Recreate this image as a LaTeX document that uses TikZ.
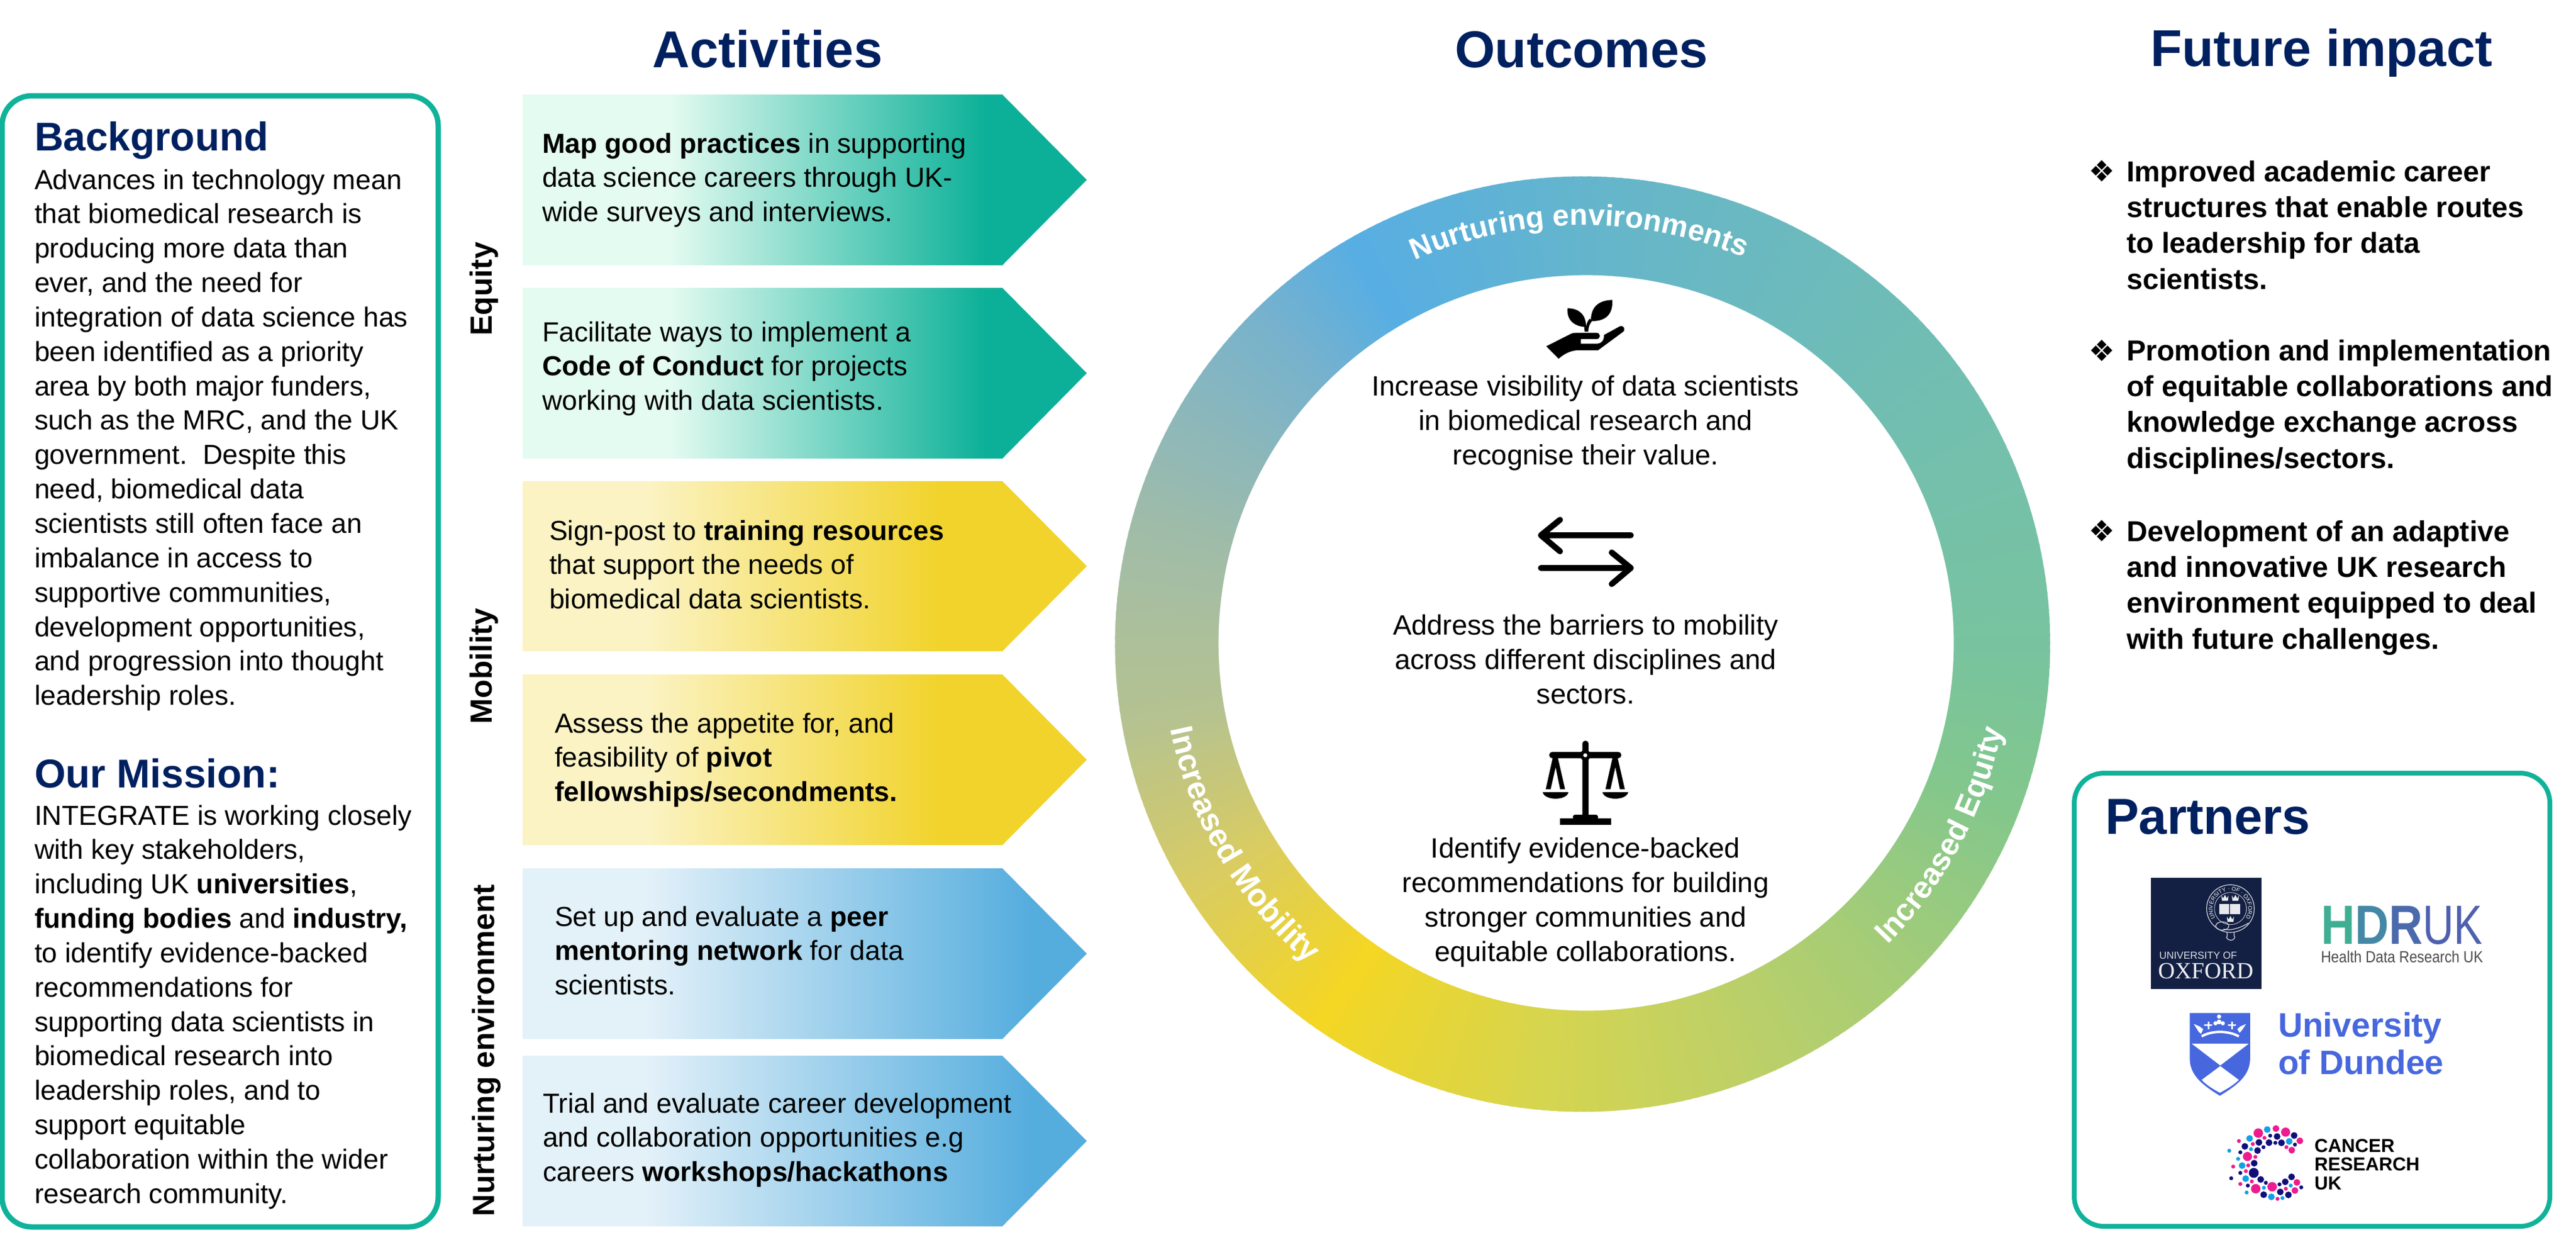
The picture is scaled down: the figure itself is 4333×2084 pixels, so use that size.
\documentclass[tikz,border=0pt]{standalone}
\usepackage{fontspec}
\setmainfont{Liberation Sans}
\newfontfamily\bulfont{DejaVu Sans}
\newfontfamily\oxserif{Liberation Serif}
\usetikzlibrary{decorations.text}
\definecolor{navy}{HTML}{002060}
\definecolor{boxteal}{HTML}{10B29A}
\definecolor{oxblue}{HTML}{132043}
\definecolor{dundee}{HTML}{4767DE}
\definecolor{cpink}{HTML}{EE1B8E}
\definecolor{ccyan}{HTML}{12A0E6}
\definecolor{cnavy}{HTML}{100F7A}
\definecolor{ra}{HTML}{57AEE3}
\definecolor{rb}{HTML}{78B2CC}
\definecolor{rc}{HTML}{A0BCA8}
\definecolor{rd}{HTML}{B5C290}
\definecolor{re}{HTML}{D9CC62}
\definecolor{rf}{HTML}{F4D624}
\definecolor{rg}{HTML}{D5D54F}
\definecolor{rh}{HTML}{BFD066}
\definecolor{ri}{HTML}{A3CC78}
\definecolor{rj}{HTML}{82C78D}
\definecolor{rk}{HTML}{78C39F}
\definecolor{rl}{HTML}{73BFAE}
\definecolor{rm}{HTML}{6CBABD}
\definecolor{rn}{HTML}{64B5CC}
\definecolor{gl}{HTML}{E4FBF1}
\definecolor{gd}{HTML}{0CB098}
\definecolor{yl}{HTML}{FBF3C4}
\definecolor{yd}{HTML}{F1D32B}
\definecolor{bl}{HTML}{E3F1F9}
\definecolor{bd}{HTML}{55ADDE}
\pgfdeclarehorizontalshading{greenarrow}{100bp}{color(0bp)=(gl);color(25bp)=(gl);color(38bp)=(gl);color(66bp)=(gd);color(100bp)=(gd)}
\pgfdeclarehorizontalshading{yellowarrow}{100bp}{color(0bp)=(yl);color(25bp)=(yl);color(36bp)=(yl);color(62bp)=(yd);color(100bp)=(yd)}
\pgfdeclarehorizontalshading{bluearrow}{100bp}{color(0bp)=(bl);color(25bp)=(bl);color(36bp)=(bl);color(70bp)=(bd);color(100bp)=(bd)}
\tikzset{
  every node/.style={inner sep=0pt,outer sep=0pt},
  bodytext/.style={anchor=north west,align=left,font=\fontsize{13.17}{16.45}\selectfont,text=black},
  centertext/.style={anchor=north,align=center,font=\fontsize{13.37}{16.5}\selectfont,text=black},
  impacttext/.style={anchor=north west,align=left,font=\fontsize{13.8}{17.16}\selectfont\bfseries,text=black},
  bulletmark/.style={anchor=base west,font=\fontsize{14}{16}\bulfont,text=black},
  header/.style={anchor=base,font=\fontsize{24.75}{30}\selectfont\bfseries,text=navy},
  panelhead/.style={anchor=base west,font=\fontsize{19.2}{23}\selectfont\bfseries,text=navy},
  sidelabel/.style={anchor=base,rotate=90,font=\fontsize{14.65}{18}\selectfont\bfseries,text=black},
  panel/.style={draw=boxteal,line width=0.09cm,rounded corners=0.5cm,fill=white},
  ringlabel/.style={decorate,decoration={text along path,text align=center,text={#1}}},
  iconline/.style={draw=black,line width=0.1cm,line cap=round,line join=round},
}
\newcommand{\arrowshape}[3]{\shade[shading=#3] (879,-#1) -- (1686,-#1) -- (1828,-#2*.5-#1*.5) -- (1686,-#2) -- (879,-#2) -- cycle;}
\begin{document}
\begin{tikzpicture}[x=0.01cm,y=0.01cm]
\useasboundingbox (0,0) rectangle (4333,-2084);
\fill[white] (0,0) rectangle (4333,-2084);

% headers
\node[header] (hact) at (1291,-113) {Activities};
\node[header] (hout) at (2660,-113) {Outcomes};
\node[header] (hfut) at (3905,-111) {Future impact};

% left panel
\draw[panel] (3.5,-161) rectangle (737,-2063);
\node[panelhead] (bghead) at (58,-253) {Background};
\node[bodytext] (bgtext) at (58,{-318+40.5}) {\strut Advances in technology mean\\
that biomedical research is\\
producing more data than\\
ever, and the need for\\
integration of data science has\\
been identified as a priority\\
area by both major funders,\\
such as the MRC, and the UK\\
government.\ \ Despite this\\
need, biomedical data\\
scientists still often face an\\
imbalance in access to\\
supportive communities,\\
development opportunities,\\
and progression into thought\\
leadership roles.};
\node[panelhead] (mishead) at (58,-1324) {Our Mission:};
\node[bodytext] (mistext) at (58,{-1387+40.5}) {\strut INTEGRATE is working closely\\
with key stakeholders,\\
including UK \textbf{universities},\\
\textbf{funding bodies} and \textbf{industry,}\\
to identify evidence-backed\\
recommendations for\\
supporting data scientists in\\
biomedical research into\\
leadership roles, and to\\
support equitable\\
collaboration within the wider\\
research community.};

% side labels
\node[sidelabel] (lequity) at (827,-486) {Equity};
\node[sidelabel] (lmob) at (827,-1120) {Mobility};
\node[sidelabel] (lnur) at (831,-1766) {Nurturing environment};

% arrows
\arrowshape{159}{446}{greenarrow}
\arrowshape{484}{771}{greenarrow}
\arrowshape{809}{1095}{yellowarrow}
\arrowshape{1134}{1421}{yellowarrow}
\arrowshape{1460}{1747}{bluearrow}
\arrowshape{1775}{2062}{bluearrow}
\node[bodytext] (a1) at (912,{-257+40.5}) {\strut\textbf{Map good practices} in supporting\\data science careers through UK-\\wide surveys and interviews.};
\node[bodytext] (a2) at (912,{-574+40.5}) {\strut Facilitate ways to implement a\\\textbf{Code of Conduct} for projects\\working with data scientists.};
\node[bodytext] (a3) at (924,{-908+40.5}) {\strut Sign-post to \textbf{training resources}\\that support the needs of\\biomedical data scientists.};
\node[bodytext] (a4) at (933,{-1232+40.5}) {\strut Assess the appetite for, and\\feasibility of \textbf{pivot}\\\textbf{fellowships/secondments.}};
\node[bodytext] (a5) at (933,{-1557+40.5}) {\strut Set up and evaluate a \textbf{peer}\\\textbf{mentoring network} for data\\scientists.};
\node[bodytext] (a6) at (913,{-1871+40.5}) {\strut Trial and evaluate career development\\and collaboration opportunities e.g\\careers \textbf{workshops/hackathons}};

% ring
\begin{scope}[shift={(2662,-1083)}]
\foreach \a/\b/\ca/\cb in {120/135/ra/rb,135/165/rb/rc,165/190/rc/rd,190/212/rd/re,212/235/re/rf,235/265/rf/rg,265/290/rg/rh,290/315/rh/ri,315/340/ri/rj,340/360/rj/rk,360/390/rk/rl,390/420/rl/rm,420/450/rm/rn,450/480/rn/ra}{
  \pgfmathtruncatemacro\n{\b-\a-1}
  \foreach \i in {0,...,\n}{
    \pgfmathsetmacro\p{100*(\i+.5)/(\b-\a)}
    \colorlet{segc}{\cb!\p!\ca}
    \fill[segc] (0,0) -- (\a+\i:7.86cm) arc[start angle=\a+\i,end angle=\a+\i+1.4,radius=7.86cm] -- cycle;
  }
}
\end{scope}
\fill[white] (2668,-1081) circle[radius=6.18cm];
% ring labels
\path[ringlabel={|\fontsize{14.2}{17}\selectfont\bfseries\color{white}|Nurturing environments}] (2662,-1083) ++(116:7.04cm) arc[start angle=116,end angle=65,radius=7.04cm];
\path[ringlabel={|\fontsize{14.8}{18}\selectfont\bfseries\color{white}|Increased Equity}] (2662,-1083) ++(-47:7.2cm) arc[start angle=-47,end angle=-9,radius=7.2cm];
\path[ringlabel={|\fontsize{15.2}{18}\selectfont\bfseries\color{white}|Increased Mobility}] (2662,-1083) ++(190:7.08cm) arc[start angle=190,end angle=231,radius=7.08cm];

% centre texts
\node[centertext] (o1) at (2667,{-665+40.6}) {\strut Increase visibility of data scientists\\in biomedical research and\\recognise their value.};
\node[centertext] (o2) at (2667,{-1067+40.6}) {\strut Address the barriers to mobility\\across different disciplines and\\sectors.};
\node[centertext] (o3) at (2667,{-1442+40.6}) {\strut Identify evidence-backed\\recommendations for building\\stronger communities and\\equitable collaborations.};

% plant icon
\begin{scope}[shift={(2570,-490)},x=0.003333cm,y=0.003333cm]
\fill[black] (200,-85) .. controls (255,-85) and (295,-115) .. (294,-180) .. controls (240,-178) and (195,-150) .. (200,-85) -- cycle;
\fill[black] (427,-43) .. controls (360,-45) and (318,-75) .. (318,-150) .. controls (395,-152) and (430,-115) .. (427,-43) -- cycle;
\fill[black] (284,-172) -- (287,-203) -- (305,-203) .. controls (305,-180) and (312,-165) .. (325,-148) -- (312,-138) .. controls (303,-148) and (298,-158) .. (296,-172) -- cycle;
\fill[black] (93,-277) -- (212,-217) .. controls (225,-210) and (235,-209) .. (245,-209) -- (345,-209) .. controls (370,-209) and (370,-241) .. (345,-241) -- (268,-241) -- (268,-264) -- (350,-264) .. controls (370,-264) and (385,-250) .. (385,-220) -- (465,-176) .. controls (480,-168) and (498,-190) .. (480,-205) -- (355,-297) -- (260,-297) .. controls (215,-297) and (185,-315) .. (155,-340) -- cycle;
\end{scope}

% exchange icon
\draw[iconline] (2743,-900) -- (2592,-900) (2624,-874) -- (2592,-900) -- (2624,-927);
\draw[iconline] (2592,-955) -- (2743,-955) (2711,-929) -- (2743,-955) -- (2711,-982);

% scales icon
\begin{scope}[shift={(2570,-1230)},x=0.003333cm,y=0.003333cm]
\fill[black] (275,-430) -- (275,-62) arc[start angle=180,end angle=0,radius=0.0533cm] -- (307,-430) -- cycle;
\fill[black,rounded corners=0.05cm] (108,-103) rectangle (472,-135);
\fill[black] (290,-120) circle[radius=0.09cm];
\fill[white] (290,-120) circle[radius=0.034cm];
\fill[black] (125,-135) -- (90,-292) -- (115,-292) -- (140,-180) -- (163,-292) -- (188,-292) -- (152,-135) -- cycle;
\fill[black] (427,-135) -- (392,-292) -- (417,-292) -- (442,-180) -- (465,-292) -- (490,-292) -- (454,-135) -- cycle;
\fill[black] (75,-307) -- (205,-307) .. controls (195,-350) and (85,-350) .. (75,-307) -- cycle;
\fill[black] (377,-307) -- (507,-307) .. controls (497,-350) and (387,-350) .. (377,-307) -- cycle;
\fill[black] (162,-440) rectangle (420,-473);
\fill[black,rounded corners=0.04cm] (227,-445) -- (227,-420) -- (355,-420) -- (355,-445) -- cycle;
\end{scope}

% future impact
\node[bulletmark] (b1) at (3513,-305) {❖};
\node[bulletmark] (b2) at (3513,-607) {❖};
\node[bulletmark] (b3) at (3513,-910) {❖};
\node[impacttext] (i1) at (3577,{-305+42.2}) {\strut Improved academic career\\structures that enable routes\\to leadership for data\\scientists.};
\node[impacttext] (i2) at (3577,{-606+42.2}) {\strut Promotion and implementation\\of equitable collaborations and\\knowledge exchange across\\disciplines/sectors.};
\node[impacttext] (i3) at (3577,{-910+42.2}) {\strut Development of an adaptive\\and innovative UK research\\environment equipped to deal\\with future challenges.};

% partners
\draw[panel,line width=0.08cm] (3489,-1300) rectangle (4289,-2062);
\node[panelhead,font=\fontsize{24.2}{29}\selectfont\bfseries] (phead) at (3541,-1402) {Partners};

% Oxford
\fill[oxblue] (3618,-1476) rectangle (3804,-1663);
\draw[white!85!oxblue,line width=0.012cm] (3751.7,-1527.7) circle[radius=0.40cm];
\draw[white!85!oxblue,line width=0.008cm] (3751.7,-1527.7) circle[radius=0.27cm];
\path[ringlabel={|\fontsize{2.7}{3}\selectfont\color{white}|UNIVERSITY · OF · OXFORD}] (3751.7,-1527.7) ++(222:0.30cm) arc[start angle=222,end angle=-42,radius=0.30cm];
\fill[white!90!oxblue] (3733,-1520) rectangle (3749.5,-1537) (3751,-1520) rectangle (3768,-1537);
\foreach \cx/\cy in {3742.5/-1510.5,3760/-1510.5,3751.7/-1546}{
  \fill[white!90!oxblue] (\cx-6,\cy+5) -- (\cx-3,\cy) -- (\cx,\cy+6) -- (\cx+3,\cy) -- (\cx+6,\cy+5) -- (\cx+5,\cy-4) -- (\cx-5,\cy-4) -- cycle;
}
\draw[white!85!oxblue,line width=0.012cm] (3738,-1557) ellipse[x radius=0.11cm,y radius=0.07cm];
\draw[white!85!oxblue,line width=0.012cm] (3740,-1562) .. controls (3750,-1566) and (3770,-1560) .. (3782,-1552);
\draw[white!85!oxblue,line width=0.012cm] (3746,-1568) .. controls (3746,-1572) and (3747,-1575) .. (3745,-1576) .. controls (3746,-1580) and (3752,-1581) .. (3752,-1581) .. controls (3754,-1581) and (3758,-1580) .. (3759,-1576) .. controls (3757,-1574) and (3758,-1572) .. (3758,-1568);
\node[anchor=base west,font=\fontsize{4.85}{6}\selectfont,text=white!85!oxblue] (oxu) at (3632,-1612) {UNIVERSITY OF};
\node[anchor=base west,font=\fontsize{11.1}{13}\oxserif,text=white!92!oxblue] (oxo) at (3630,-1645) {OXFORD};

% HDR UK
\node[anchor=base west,font=\fontsize{26.4}{30}\selectfont\bfseries] (hdr) at (3904,-1587) {\scalebox{.85}[1]{\textcolor[HTML]{3FAE93}{H}\textcolor[HTML]{4488A6}{D}\textcolor[HTML]{4B6AAC}{R}}};
\node[anchor=base west,font=\fontsize{26.4}{30}\selectfont,text={rgb,255:red,78;green,96;blue,174}] (ukk) at (4075,-1587) {\scalebox{.78}[1]{UK}};
\node[anchor=base west,font=\fontsize{7.7}{9}\selectfont,text=black!70] (hdrs) at (3904,-1618) {\scalebox{.875}[1]{Health Data Research UK}};

% Dundee
\begin{scope}[shift={(3670,-1690)},x=0.003333cm,y=0.003333cm]
\fill[dundee] (40,-40) -- (345,-40) -- (345,-270) .. controls (345,-360) and (270,-410) .. (192,-458) .. controls (115,-410) and (40,-360) .. (40,-270) -- cycle;
\fill[white] (50,-195) -- (338,-195) -- (194,-305) -- cycle;
\fill[white] (194,-308) -- (288,-378) .. controls (260,-405) and (225,-425) .. (192,-443) .. controls (160,-425) and (125,-405) .. (100,-378) -- cycle;
\draw[white,line width=0.04cm] (100,-158) .. controls (150,-128) and (235,-128) .. (288,-158);
\fill[white] (188,-58) circle[radius=0.035cm] (170,-92) circle[radius=0.035cm] (207,-92) circle[radius=0.035cm] (188,-85) circle[radius=0.04cm];
\fill[white] (131,-84) -- (139,-84) -- (139,-97) -- (153,-97) -- (153,-105) -- (139,-105) -- (139,-122) -- (131,-122) -- (131,-105) -- (113,-105) -- (113,-97) -- (131,-97) -- cycle;
\fill[white] (250,-84) -- (258,-84) -- (258,-97) -- (274,-97) -- (274,-105) -- (258,-105) -- (258,-122) -- (250,-122) -- (250,-105) -- (233,-105) -- (233,-97) -- (250,-97) -- cycle;
\fill[white] (60,-95) -- (90,-108) -- (108,-122) -- (97,-145) -- (85,-135) -- cycle;
\fill[white] (325,-95) -- (295,-108) -- (280,-122) -- (292,-140) -- (305,-125) -- cycle;
\end{scope}
\node[anchor=base west,font=\fontsize{16.2}{19}\selectfont\bfseries,text=dundee] (dun1) at (3832,-1743) {University};
\node[anchor=base west,font=\fontsize{16.2}{19}\selectfont\bfseries,text=dundee] (dun2) at (3832,-1806) {of Dundee};

% CRUK dots
\begin{scope}[shift={(3760,-1860)},x=0.003333cm,y=0.003333cm]
\foreach \dx/\dy/\dr in {116/136/24,205/113/17,254/131/23,326/175/17,285/222/17,147/160/10,88/191/10,258/207/10,18/176/10,61/254/23,101/256/10,65/299/10,53/328/10,83/380/10,25/393/10,103/417/24,186/407/24,311/385/17,301/426/17,255/417/10,213/468/10,-11/305/10}
  \fill[cpink] (\dx,-\dy) circle[radius=\dr*0.003333cm];
\foreach \dx/\dy/\dr in {161/118/17,72/163/17,272/178/17,79/217/10,14/266/10,34/300/17,52/366/17,144/412/10,280/401/10,57/436/10,182/458/17,238/464/10,-31/225/10}
  \fill[ccyan] (\dx,-\dy) circle[radius=\dr*0.003333cm];
\foreach \dx/\dy/\dr in {176/149/10,211/153/17,297/148/17,119/183/17,170/184/17,202/185/10,233/185/17,301/194/10,48/203/17,142/207/10,112/224/17,25/233/10,95/288/17,25/337/10,93/337/25,128/370/17,154/387/10,63/401/10,223/395/10,252/382/17,284/357/17,333/410/10,227/433/17,143/447/17,268/448/17,-21/364/10}
  \fill[cnavy] (\dx,-\dy) circle[radius=\dr*0.003333cm];
\end{scope}
\node[anchor=north west,align=left,font=\fontsize{8.96}{8.96}\selectfont\bfseries,text=black] (cruk) at (3893,{-1937+22}) {\strut CANCER\\RESEARCH\\UK};
\end{tikzpicture}
\end{document}
